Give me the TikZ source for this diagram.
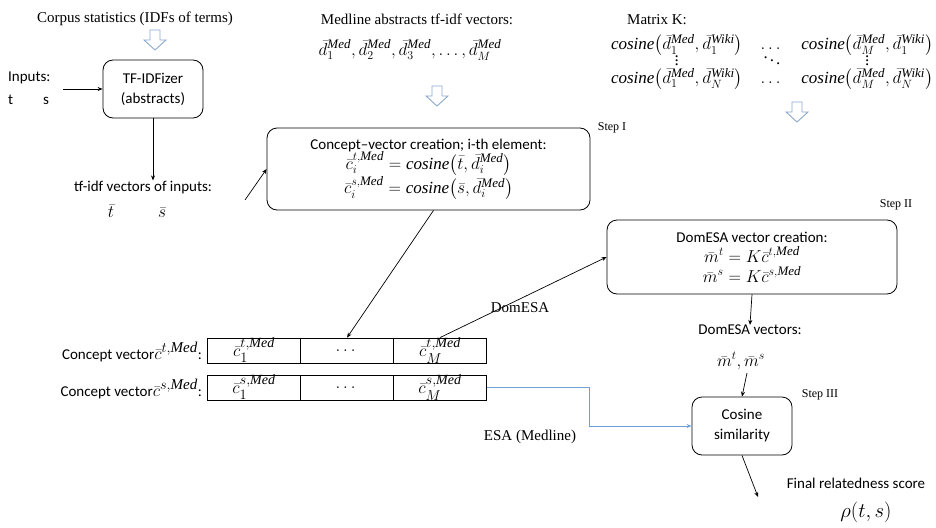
\documentclass[tikz,border=0pt]{standalone}
\usepackage{amsmath}
\usepackage{fontspec}
\setmainfont{Liberation Serif}
\newfontfamily\sansf[Ligatures=TeX]{Carlito}
\usetikzlibrary{arrows.meta}
\DeclareMathSizes{14}{14}{11}{8}
\DeclareMathSizes{15}{15}{12}{9}
\DeclareMathSizes{16}{16}{12.5}{9}
\DeclareMathSizes{17}{17}{13}{10}
\DeclareMathSizes{18}{18}{14}{10}
\DeclareMathSizes{19}{19}{15}{11}
\definecolor{hollowc}{HTML}{8DA9CF}
\definecolor{esablue}{HTML}{6FA0D8}
\newcommand{\hollowarrow}[1]{\draw[hollowc,line width=0.9pt,fill=white,shift={(#1)}] (-5,0) -- (5,0) -- (5,10) -- (11,10) -- (0,20) -- (-11,10) -- (-5,10) -- cycle;}
\newcommand{\mtx}[1]{\text{\normalfont\itshape #1}}
\newcommand{\cosi}{\mtx{cosine}}
\newcommand{\Med}{\mtx{Med}}
\newcommand{\Wiki}{\mtx{Wiki}}
\begin{document}
\begin{tikzpicture}[x=1pt,y=-1pt,
  box/.style={draw,rounded corners=10pt,line width=0.8pt,align=center,font=\sansf\fontsize{15}{20}\selectfont,inner sep=2pt},
  cell/.style={draw,line width=0.7pt,minimum width=93pt,minimum height=25pt,inner sep=0pt,font=\fontsize{18}{18}\selectfont},
  stxt/.style={font=\sansf\fontsize{15}{18}\selectfont,align=center,inner sep=0pt},
  rtxt/.style={font=\fontsize{15}{18}\selectfont,align=center,inner sep=0pt},
  mtxt/.style={font=\fontsize{17}{18}\selectfont,inner sep=0pt},
  steplbl/.style={font=\fontsize{12}{13}\selectfont,inner sep=0pt},
  conn/.style={-{Stealth[length=5pt,width=4pt]},line width=0.7pt}]
\useasboundingbox (0,0) rectangle (936,527);

% top texts
\node[rtxt] (corpus) at (135,19) {Corpus statistics (IDFs of terms)};
\hollowarrow{155,30}
\node[box,minimum width=100pt,minimum height=58pt] (tfidf) at (153,89) {TF-IDFizer\\(abstracts)};
\node[stxt,anchor=west] (inputs) at (8,78) {Inputs:};
\node[stxt,anchor=west] (ts) at (8,100) {t\hspace{30pt}s};
\coordinate (inp) at (63,89);
\draw[conn] (inp) -- (tfidf.west |- inp);

\node[stxt] (tfv) at (143,187) {tf-idf vectors of inputs:};
\node[mtxt] (tsbar) at (137,211) {$\bar t\hspace{44pt}\bar s$};
\draw[conn] (tfidf.south) -- (tfidf.south |- tfv.north);

\node[rtxt] (medline) at (417,19) {Medline abstracts tf-idf vectors:};
\node[mtxt] (dvecs) at (410,50) {$\bar d_1^{\Med}, \bar d_2^{\Med}, \bar d_3^{\Med}, \dots, \bar d_M^{\Med}$};
\hollowarrow{437,86}

\node[rtxt] (matk) at (657,20) {Matrix K:};
\node[font=\fontsize{17}{18}\selectfont,inner sep=0pt] (kmat) at (772,62) {$\renewcommand{\arraystretch}{1.0}\begin{array}{@{}c@{\hspace{18pt}}c@{\hspace{18pt}}c@{}}
\cosi\big(\bar d_1^{\Med},\bar d_1^{\Wiki}\big) & \dots & \cosi\big(\bar d_M^{\Med},\bar d_1^{\Wiki}\big)\\[-6pt]
\vdots & \ddots & \vdots\\[-3pt]
\cosi\big(\bar d_1^{\Med},\bar d_N^{\Wiki}\big) & \dots & \cosi\big(\bar d_M^{\Med},\bar d_N^{\Wiki}\big)
\end{array}$};
\hollowarrow{797,102}

% Step I
\node[box,minimum width=323pt,minimum height=82pt] (concept) at (428.5,169) {Concept–vector creation; i-th element:\\
{\fontsize{17}{20}\selectfont$\bar c_i^{t,\Med} = \cosi\big(\bar t,\bar d_i^{\Med}\big)$}\\
{\fontsize{17}{20}\selectfont$\bar c_i^{s,\Med} = \cosi\big(\bar s,\bar d_i^{\Med}\big)$}};
\node[steplbl] (step1) at (612,128) {Step I};
\coordinate (tfvend) at (245,200);
\draw[conn] (tfvend) -- (concept.west);

% Step II
\node[box,minimum width=290pt,minimum height=74pt] (domesa) at (752,257) {DomESA vector creation:\\
{\fontsize{17}{20}\selectfont$\bar m^t = K\bar c^{t,\Med}$}\\
{\fontsize{17}{20}\selectfont$\bar m^s = K\bar c^{s,\Med}$}};
\node[steplbl] (step2) at (896,205) {Step II};

% concept vectors
\node[cell] (c11) at (254,350.5) {$\bar c_1^{t,\Med}$};
\node[cell] (c12) at (347,350.5) {$\dots$};
\node[cell] (c13) at (440,350.5) {$\bar c_M^{t,\Med}$};
\node[cell] (c21) at (254,387.5) {$\bar c_1^{s,\Med}$};
\node[cell] (c22) at (347,387.5) {$\dots$};
\node[cell] (c23) at (440,387.5) {$\bar c_M^{s,\Med}$};
\node[stxt,anchor=east] (cvt) at (202,352) {Concept vector{\fontsize{19}{19}\selectfont$\bar c^{t,\Med}$}:};
\node[stxt,anchor=east] (cvs) at (202,389) {Concept vector{\fontsize{19}{19}\selectfont$\bar c^{s,\Med}$}:};

\draw[conn] (concept.south) ++(5,0) coordinate (cs) -- (c12.north);
\draw[conn] (c13.north) -- (domesa.west);
\node[font=\fontsize{15}{17}\selectfont,inner sep=0pt] (domlbl) at (520,308) {DomESA};

% DomESA vectors
\node[stxt] (dv) at (750,330) {DomESA vectors:};
\node[mtxt] (mv) at (741,361) {$\bar m^t, \bar m^s$};
\draw[conn] (domesa.south) -- (dv.north);

% Step III
\node[box,minimum width=100pt,minimum height=58pt] (cosine) at (742,426) {Cosine\\similarity};
\node[steplbl] (step3) at (820,395) {Step III};
\coordinate (mvend) at (747,373);
\draw[conn] (mvend) -- (cosine.north);

\draw[esablue,line width=0.8pt,-{Stealth[length=5pt,width=4pt]}] (c23.east) -- ++(103,0) |- (cosine.west);
\node[rtxt] (esalbl) at (530,437) {ESA (Medline)};

\node[stxt] (final) at (856,483) {Final relatedness score};
\node[font=\fontsize{22}{24}\selectfont,inner sep=0pt] (rho) at (866,512) {$\rho(t,s)$};
\coordinate (fin) at (758,497);
\draw[conn] (cosine.south) -- (fin);
\end{tikzpicture}
\end{document}
